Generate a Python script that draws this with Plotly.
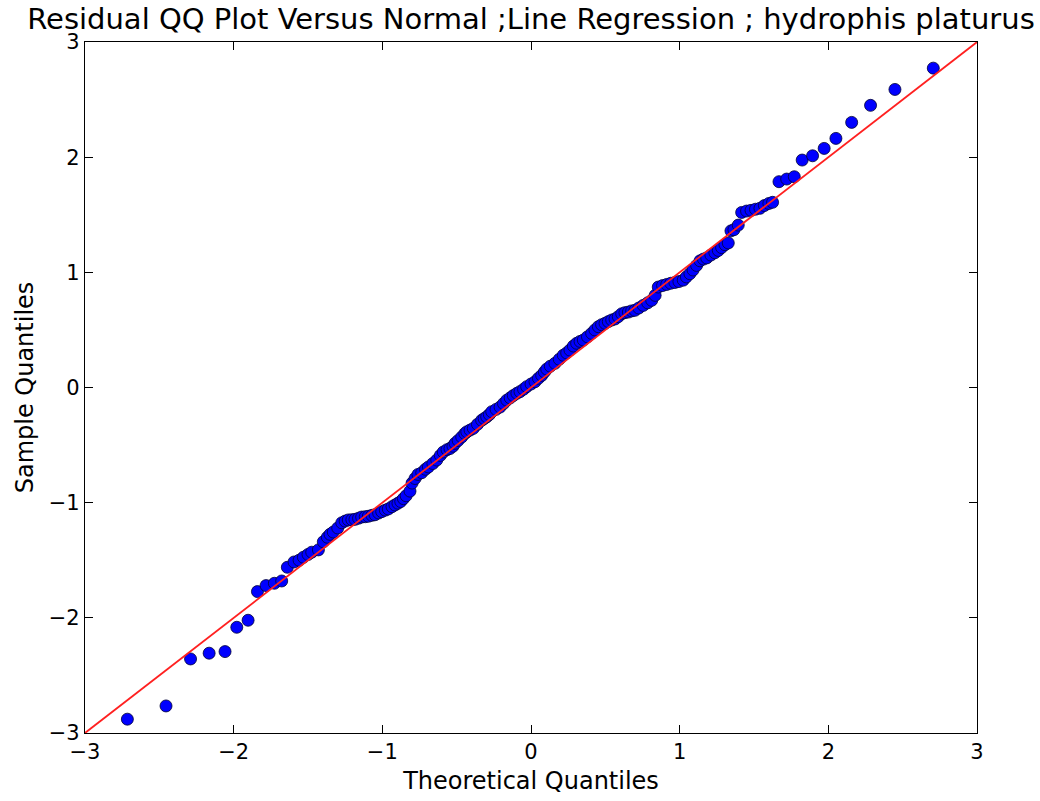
import plotly.graph_objects as go

# Theoretical quantiles (x) and sample quantiles (y)
theoretical = [
    -2.715, -2.455, -2.29, -2.165, -2.058, -1.979, -1.903, -1.84, -1.782, -1.726,
    -1.677, -1.639, -1.594, -1.56, -1.531, -1.50, -1.475, -1.43, -1.397, -1.37,
    -1.352, -1.33, -1.30, -1.273, -1.25, -1.229, -1.205, -1.184, -1.16, -1.139,
    -1.115, -1.094, -1.07, -1.049, -1.025, -1.004, -0.98, -0.96, -0.935, -0.915,
    -0.895, -0.876, -0.858, -0.84, -0.814, -0.80, -0.78, -0.76, -0.735, -0.71,
    -0.69, -0.66, -0.634, -0.61, -0.59, -0.565, -0.545, -0.525, -0.511, -0.49,
    -0.466, -0.445, -0.432, -0.41, -0.388, -0.36, -0.332, -0.315, -0.298, -0.28,
    -0.264, -0.235, -0.208, -0.185, -0.163, -0.14, -0.119, -0.095, -0.074, -0.05,
    -0.029, 0.0, 0.027, 0.05, 0.072, 0.09, 0.106, 0.13, 0.161, 0.19,
    0.217, 0.24, 0.262, 0.285, 0.307, 0.33, 0.352, 0.38, 0.408, 0.43,
    0.453, 0.475, 0.498, 0.52, 0.543, 0.565, 0.587, 0.61, 0.632, 0.655,
    0.677, 0.699, 0.725, 0.755, 0.785, 0.812, 0.835, 0.856, 0.885, 0.913,
    0.94, 0.968, 0.995, 1.024, 1.045, 1.069, 1.09, 1.114, 1.137, 1.16,
    1.182, 1.21, 1.237, 1.26, 1.282, 1.305, 1.327, 1.345, 1.365, 1.394,
    1.417, 1.45, 1.48, 1.51, 1.54, 1.57, 1.60, 1.625, 1.668, 1.72,
    1.771, 1.824, 1.894, 1.972, 2.051, 2.157, 2.284, 2.448, 2.706,
]
sample = [
    -2.88, -2.765, -2.357, -2.307, -2.293, -2.082, -2.021, -1.772, -1.72, -1.70,
    -1.68, -1.561, -1.515, -1.50, -1.474, -1.45, -1.43, -1.41, -1.34, -1.30,
    -1.275, -1.255, -1.22, -1.175, -1.16, -1.15, -1.148, -1.145, -1.135, -1.125,
    -1.122, -1.118, -1.11, -1.105, -1.09, -1.078, -1.065, -1.055, -1.035, -1.02,
    -1.005, -0.99, -0.965, -0.94, -0.90, -0.83, -0.79, -0.755, -0.74, -0.71,
    -0.69, -0.66, -0.63, -0.59, -0.56, -0.54, -0.53, -0.51, -0.485, -0.46,
    -0.43, -0.40, -0.385, -0.37, -0.355, -0.32, -0.285, -0.27, -0.255, -0.235,
    -0.21, -0.19, -0.17, -0.14, -0.11, -0.09, -0.07, -0.05, -0.036, -0.015,
    0.007, 0.03, 0.05, 0.08, 0.105, 0.135, 0.16, 0.185, 0.21, 0.245,
    0.28, 0.30, 0.325, 0.36, 0.384, 0.40, 0.412, 0.44, 0.47, 0.50,
    0.528, 0.545, 0.557, 0.572, 0.586, 0.595, 0.615, 0.64, 0.65, 0.655,
    0.665, 0.67, 0.69, 0.713, 0.735, 0.757, 0.80, 0.872, 0.885, 0.895,
    0.905, 0.912, 0.92, 0.932, 0.96, 0.988, 1.02, 1.06, 1.10, 1.115,
    1.125, 1.15, 1.17, 1.19, 1.215, 1.24, 1.255, 1.36, 1.37, 1.41,
    1.52, 1.532, 1.538, 1.548, 1.556, 1.58, 1.598, 1.608, 1.787, 1.81,
    1.83, 1.975, 2.012, 2.076, 2.163, 2.302, 2.45, 2.588, 2.773,
]

# 45-degree reference line
line_x = [-3, 3]
line_y = [-3, 3]

tick_vals = [-3, -2, -1, 0, 1, 2, 3]

fig = go.Figure()
fig.add_trace(go.Scatter(
    x=theoretical, y=sample, mode="markers",
    marker=dict(color="#0000ff", size=12, line=dict(color="#000033", width=0.8)),
    showlegend=False,
))
fig.add_trace(go.Scatter(
    x=line_x, y=line_y, mode="lines",
    line=dict(color="#ff2020", width=1.8),
    showlegend=False,
))

axis_common = dict(
    range=[-3, 3], tickvals=tick_vals, ticks="inside", ticklen=8, tickwidth=1,
    tickcolor="black", showline=True, linecolor="black", linewidth=1.3,
    mirror="ticks", showgrid=False, zeroline=False,
    tickfont=dict(family="DejaVu Sans", size=21, color="black"),
)

fig.update_layout(
    width=1040, height=801,
    paper_bgcolor="white", plot_bgcolor="white",
    margin=dict(l=85, r=63, t=42, b=68),
    font=dict(family="DejaVu Sans", color="black"),
    title=dict(
        text="Residual QQ Plot Versus Normal ;Line Regression ; hydrophis platurus",
        font=dict(family="DejaVu Sans", size=29, color="black"),
        x=0.5, xref="paper", xanchor="center",
        y=0.976, yref="container", yanchor="middle",
    ),
    xaxis=dict(axis_common, title=dict(text="Theoretical Quantiles",
               font=dict(size=24), standoff=8)),
    yaxis=dict(axis_common, title=dict(text="Sample Quantiles",
               font=dict(size=24), standoff=8)),
)

fig.write_html("out.html")
